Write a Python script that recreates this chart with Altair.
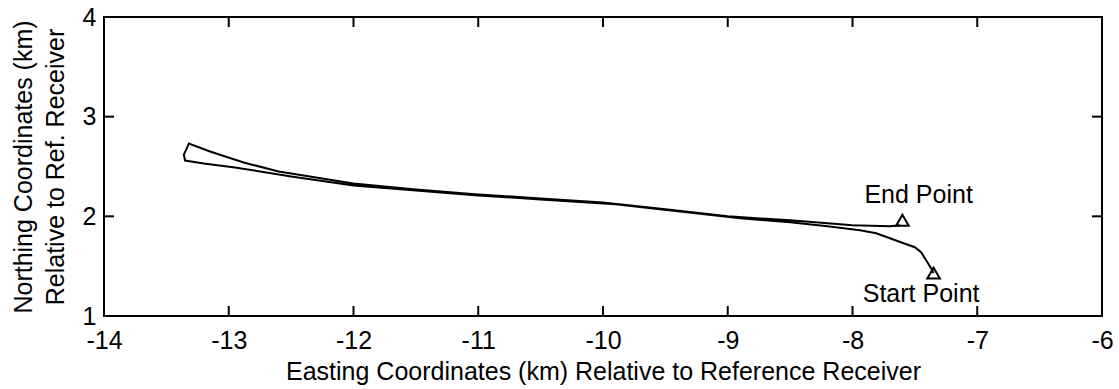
import altair as alt
import pandas as pd

# trajectory (km): outbound (lower) then return (upper)
east = [-7.35, -7.37, -7.41, -7.45, -7.50, -7.59, -7.70, -7.81, -7.94, -8.20, -8.50,
        -8.90, -9.40, -9.90, -10.50, -11.00, -11.50, -12.00, -12.50, -12.95, -13.20,
        -13.35, -13.36, -13.33, -13.32,
        -13.15, -12.88, -12.60, -12.00, -11.50, -11.00, -10.50, -10.00, -9.50, -9.00,
        -8.50, -8.00, -7.70, -7.62]
north = [1.43, 1.48, 1.56, 1.64, 1.69, 1.73, 1.78, 1.83, 1.86, 1.90, 1.94,
         1.98, 2.05, 2.12, 2.17, 2.21, 2.26, 2.31, 2.40, 2.49, 2.53,
         2.56, 2.62, 2.70, 2.73,
         2.65, 2.54, 2.45, 2.33, 2.27, 2.22, 2.18, 2.14, 2.07, 2.00,
         1.96, 1.91, 1.90, 1.91]

marker_east = [-7.35, -7.60]
marker_north = [1.43, 1.96]

label_text = ["End Point", "Start Point"]
label_east = [-7.47, -7.45]
label_north = [2.13, 1.14]

x_ticks = [-14, -13, -12, -11, -10, -9, -8, -7, -6]
y_ticks = [1, 2, 3, 4]

W, H = 998, 299
FONT = "Liberation Sans"
FS = 25

path = pd.DataFrame({"e": east, "n": north, "o": list(range(len(east)))})
marks = pd.DataFrame({"e": marker_east, "n": marker_north})
labels = pd.DataFrame({"t": label_text, "e": label_east, "n": label_north})
xt = pd.DataFrame({"v": x_ticks})
yt = pd.DataFrame({"v": y_ticks})

xscale = alt.Scale(domain=[-14, -6], nice=False, zero=False)
yscale = alt.Scale(domain=[1, 4], nice=False, zero=False)

xaxis = alt.Axis(values=x_ticks, title="Easting Coordinates (km) Relative to Reference Receiver",
                 labelExpr="'' + datum.value",
                 domain=False, ticks=False, grid=False, labelFont=FONT, labelFontSize=FS,
                 labelColor="black", labelPadding=12, titleFont=FONT, titleFontSize=FS,
                 titleFontWeight="normal", titleColor="black", titlePadding=6,
                 labelFlush=False, labelOverlap=False)
yaxis = alt.Axis(values=y_ticks, title=["Northing Coordinates (km)", "Relative to Ref. Receiver"],
                 labelExpr="'' + datum.value",
                 domain=False, ticks=False, grid=False, labelFont=FONT, labelFontSize=FS,
                 labelColor="black", labelPadding=8, titleFont=FONT, titleFontSize=FS,
                 titleFontWeight="normal", titleColor="black", titlePadding=14,
                 titleLineHeight=32, labelFlush=False, labelOverlap=False)

line = alt.Chart(path).mark_line(color="black", strokeWidth=2).encode(
    x=alt.X("e:Q", scale=xscale, axis=xaxis),
    y=alt.Y("n:Q", scale=yscale, axis=yaxis),
    order="o:Q",
)

tri = alt.Chart(marks).mark_point(shape="triangle-up", filled=False, color="black",
                                  size=160, strokeWidth=2, opacity=1).encode(
    x=alt.X("e:Q", scale=xscale), y=alt.Y("n:Q", scale=yscale))

txt = alt.Chart(labels).mark_text(font=FONT, fontSize=FS, color="black",
                                  align="center", baseline="alphabetic").encode(
    x=alt.X("e:Q", scale=xscale), y=alt.Y("n:Q", scale=yscale), text="t:N")

tick_bottom = alt.Chart(xt).mark_rule(color="black", strokeWidth=2).encode(
    x=alt.X("v:Q", scale=xscale), y=alt.value(H), y2=alt.value(H - 10))
tick_top = alt.Chart(xt).mark_rule(color="black", strokeWidth=2).encode(
    x=alt.X("v:Q", scale=xscale), y=alt.value(0), y2=alt.value(10))
tick_left = alt.Chart(yt).mark_rule(color="black", strokeWidth=2).encode(
    y=alt.Y("v:Q", scale=yscale), x=alt.value(0), x2=alt.value(10))
tick_right = alt.Chart(yt).mark_rule(color="black", strokeWidth=2).encode(
    y=alt.Y("v:Q", scale=yscale), x=alt.value(W - 10), x2=alt.value(W))

chart = alt.layer(line, tri, txt, tick_bottom, tick_top, tick_left, tick_right).properties(
    width=W, height=H,
    autosize=alt.AutoSizeParams(type="none"),
    padding={"left": 104, "top": 17, "right": 17, "bottom": 73},
    background="white",
).configure_view(stroke="black", strokeWidth=2)

chart.save("out.html", embed_options={"renderer": "svg", "actions": False})
